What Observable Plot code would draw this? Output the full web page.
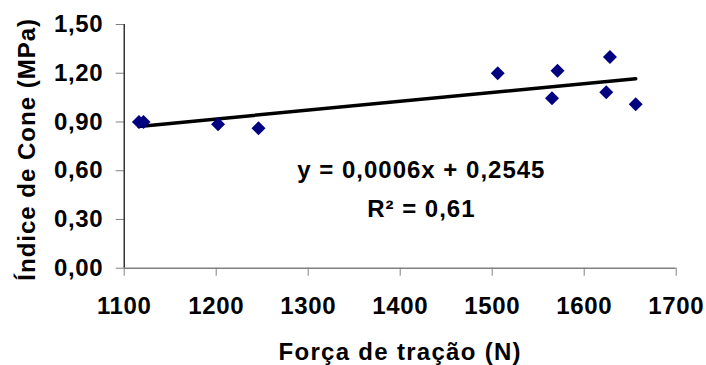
<!DOCTYPE html>
<html>
<head>
<meta charset="utf-8">
<script src="https://cdn.jsdelivr.net/npm/d3@7"></script>
<script src="https://cdn.jsdelivr.net/npm/@observablehq/plot@0.6"></script>
<style>
  html, body { margin: 0; padding: 0; background: #fff; }
</style>
</head>
<body>
<div id="chart"></div>
<script>
// Força de tração (N)
const forca = [1116, 1121, 1202, 1246, 1506, 1565, 1571, 1624, 1628, 1656];
// Índice de Cone (MPa)
const indice = [0.90, 0.90, 0.886, 0.862, 1.20, 1.046, 1.215, 1.083, 1.30, 1.009];
const xTicks = [1100, 1200, 1300, 1400, 1500, 1600, 1700];
const yTicks = [0, 0.3, 0.6, 0.9, 1.2, 1.5];
const equationLines = ["y = 0,0006x + 0,2545", "R² = 0,61"];
const xTitle = "Força de tração (N)";
const yTitle = "Índice de Cone (MPa)";

const data = forca.map((f, i) => ({forca: f, indice: indice[i]}));
const fmt = d => d.toFixed(2).replace(".", ",");

const chart = Plot.plot({
  width: 706,
  height: 365,
  marginLeft: 123.7,
  marginRight: 30.3,
  marginTop: 24,
  marginBottom: 97.3,
  style: {fontFamily: "'Liberation Sans', Arial, sans-serif", fontWeight: "bold", fontSize: "24px", background: "#fff", color: "#000", letterSpacing: "0.6px"},
  x: {domain: [1100, 1700]},
  y: {domain: [0, 1.5]},
  marks: [
    Plot.axisY({ticks: yTicks, tickFormat: fmt, tickSize: 8, tickPadding: 13, label: null, stroke: "#808080", fontSize: 24}),
    Plot.axisX({ticks: xTicks, tickFormat: d => String(d), tickSize: 8, tickPadding: 20.3, label: null, stroke: "#808080", fontSize: 24}),
    Plot.ruleX([1100], {stroke: "#000", strokeWidth: 1.2}),
    Plot.ruleY([0], {stroke: "#808080", strokeWidth: 1.5}),
    Plot.linearRegressionY(data, {x: "forca", y: "indice", ci: 0, stroke: "#000", strokeWidth: 3.5}),
    Plot.dot(data, {x: "forca", y: "indice", symbol: "diamond2", r: 6.3, fill: "#000080", stroke: "none"}),
    Plot.text([equationLines[0]], {x: 1423, y: 0.5995, text: d => d, fontSize: 24, fontWeight: "bold", lineAnchor: "middle", textAnchor: "middle"}),
    Plot.text([equationLines[1]], {x: 1423, y: 0.3595, text: d => d, fontSize: 24, fontWeight: "bold", lineAnchor: "middle", textAnchor: "middle"}),
    Plot.text([xTitle], {frameAnchor: "bottom", dy: 83.9, text: d => d, fontSize: 24, fontWeight: "bold", lineAnchor: "middle", textAnchor: "middle"}),
    Plot.text([yTitle], {frameAnchor: "left", dx: -96.4, dy: 3, rotate: -90, text: d => d, fontSize: 24, fontWeight: "bold", lineAnchor: "middle", textAnchor: "middle"})
  ]
});

d3.select(chart).selectAll("text")
  .filter(function() { const t = this.textContent; return t === xTitle || t === yTitle || equationLines.includes(t); })
  .style("letter-spacing", function() { return this.textContent === xTitle ? "1.3px" : "1px"; });

document.getElementById("chart").appendChild(chart);
</script>
</body>
</html>
